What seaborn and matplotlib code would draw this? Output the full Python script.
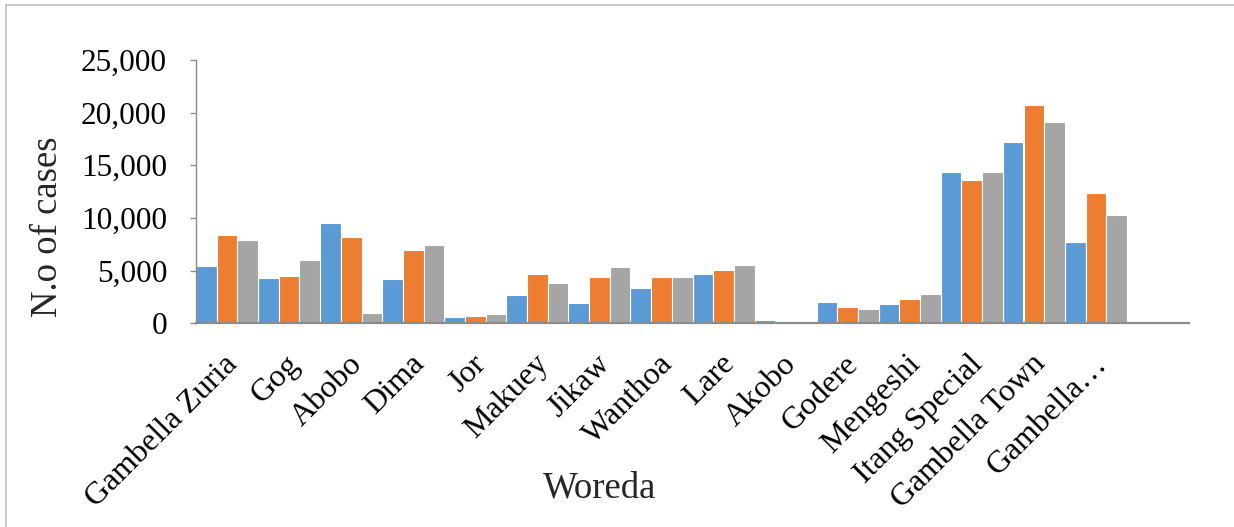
import matplotlib
matplotlib.use("Agg")
import matplotlib.pyplot as plt
import matplotlib.transforms as mtransforms
from matplotlib.lines import Line2D
from matplotlib.ticker import FuncFormatter
import pandas as pd
import seaborn as sns

# Woredas on the category axis (last label is shortened as drawn)
woredas = ["Gambella Zuria", "Gog", "Abobo", "Dima", "Jor", "Makuey", "Jikaw",
           "Wanthoa", "Lare", "Akobo", "Godere", "Mengeshi", "Itang Special",
           "Gambella Town", "Gambella…"]

# Number of cases per woreda for each of the three series
series1 = [5450, 4300, 9520, 4210, 570, 2660, 1900, 3380, 4710, 340,
           2020, 1800, 14370, 17220, 7720]
series2 = [8420, 4460, 8170, 6960, 660, 4650, 4370, 4370, 5090, 150,
           1520, 2310, 13610, 20760, 12370]
series3 = [7880, 6040, 1010, 7440, 880, 3860, 5320, 4370, 5540, 100,
           1390, 2780, 14370, 19090, 10310]

series_names = ["Series1", "Series2", "Series3"]
colors = ["#5B9BD5", "#ED7D31", "#A5A5A5"]

y_ticks = [0, 5000, 10000, 15000, 20000, 25000]

frames = []
for name, vals in zip(series_names, [series1, series2, series3]):
    frames.append(pd.DataFrame({"Woreda": woredas, "Series": name, "Cases": vals}))
df = pd.concat(frames, ignore_index=True)

sns.set_theme(style="white")
plt.rcParams["font.family"] = ["Liberation Serif", "DejaVu Serif"]

W, H, DPI = 1234, 527, 100
fig = plt.figure(figsize=(W / DPI, H / DPI), dpi=DPI)
fig.patch.set_facecolor("white")

ax = fig.add_axes([196 / W, 1 - 323.3 / H, (1189 - 196) / W, 263.3 / H])

sns.barplot(data=df, x="Woreda", y="Cases", hue="Series", order=woredas,
            hue_order=series_names, palette=colors, saturation=1, width=1.0,
            gap=0, edgecolor="white", linewidth=0.8, legend=False, ax=ax)

ax.set_xlim(-0.5, 15.5)
ax.set_ylim(0, 25000)
ax.set_yticks(y_ticks)
ax.yaxis.set_major_formatter(FuncFormatter(lambda v, p: f"{int(v):,}"))

for side in ["top", "right"]:
    ax.spines[side].set_visible(False)
ax.spines["left"].set_color("#8C8C8C")
ax.spines["left"].set_linewidth(1.0)
ax.spines["bottom"].set_color("#8C8C8C")
ax.spines["bottom"].set_linewidth(1.6)
ax.spines["bottom"].set_zorder(5)

ax.tick_params(axis="y", which="major", direction="out", length=4.3, width=1.0,
               color="#8C8C8C", pad=16.5, labelsize=22.5, labelcolor="black", left=True)
ax.tick_params(axis="x", which="major", length=0, pad=30, labelsize=23, labelcolor="black")

ax.set_xticks(range(len(woredas)))
ax.set_xticklabels(woredas, rotation=45, ha="right", va="baseline",
                   rotation_mode="anchor")
shift = mtransforms.ScaledTranslation(12 / DPI, 0, fig.dpi_scale_trans)
for lab in ax.get_xticklabels():
    lab.set_transform(lab.get_transform() + shift)

ax.set_xlabel("Woreda", fontsize=26.5, va="baseline")
ax.xaxis.set_label_coords((600 - 196) / 993, (323.3 - 497) / 263.3)
ax.set_ylabel("N.o of cases", fontsize=26.5, va="center")
ax.yaxis.set_label_coords((48 - 196) / 993, (323.3 - 226.5) / 263.3)

# thin chart-area border along the top and left edges
border = "#BFBFBF"
fig.add_artist(Line2D([6 / W, 1.0], [1 - 5 / H, 1 - 5 / H], color=border,
                      linewidth=1.2, transform=fig.transFigure))
fig.add_artist(Line2D([6 / W, 6 / W], [0.0, 1 - 5 / H], color=border,
                      linewidth=1.2, transform=fig.transFigure))

fig.savefig("out.png", dpi=DPI, facecolor="white")
